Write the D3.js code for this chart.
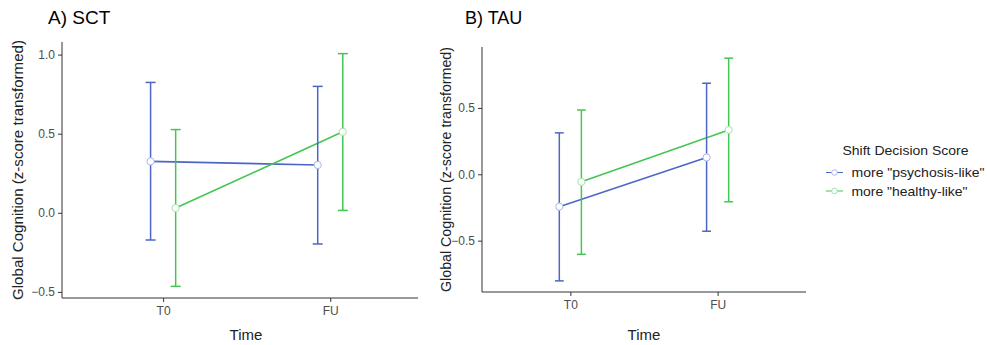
<!DOCTYPE html>
<html>
<head>
<meta charset="utf-8">
<script src="https://cdn.jsdelivr.net/npm/d3@7"></script>
<style>
  html, body { margin: 0; padding: 0; background: #fff; }
  svg { display: block; font-family: "Liberation Sans", Arial, sans-serif; }
</style>
</head>
<body>
<svg id="chart" width="987" height="345"></svg>
<script>
// ---------- DATA ----------
const times = ["T0", "FU"];
const groups = ['more "psychosis-like"', 'more "healthy-like"'];
const panelTitles = ["A) SCT", "B) TAU"];

// Panel A (SCT)
const sctPsychMean = [0.325, 0.302];
const sctPsychLow  = [-0.172, -0.197];
const sctPsychHigh = [0.824, 0.799];
const sctHealthyMean = [0.030, 0.512];
const sctHealthyLow  = [-0.465, 0.015];
const sctHealthyHigh = [0.526, 1.006];
const sctTicks = [-0.5, 0.0, 0.5, 1.0];

// Panel B (TAU)
const tauPsychMean = [-0.244, 0.127];
const tauPsychLow  = [-0.803, -0.429];
const tauPsychHigh = [0.312, 0.686];
const tauHealthyMean = [-0.057, 0.334];
const tauHealthyLow  = [-0.603, -0.207];
const tauHealthyHigh = [0.484, 0.875];
const tauTicks = [-0.5, 0.0, 0.5];

const colors = ["#4c66c6", "#45c552"];
const lightColors = ["#aab8e6", "#a6e2ad"];

// ---------- LAYOUT ----------
const svg = d3.select("#chart");
const panels = [
  { title: panelTitles[0], titleX: 48, titleSize: 19, left: 62, right: 418, top: 42, bottom: 298,
    xDomain: [0.395, 2.525], ylabX: 18, ylabLen: 260, ticks: sctTicks, timeX: 246,
    series: [
      { mean: sctPsychMean, low: sctPsychLow, high: sctPsychHigh },
      { mean: sctHealthyMean, low: sctHealthyLow, high: sctHealthyHigh } ] },
  { title: panelTitles[1], titleX: 465, titleSize: 18, left: 482, right: 806, top: 47, bottom: 292,
    xDomain: [0.4, 2.6], ylabX: 446, ylabLen: 245, ticks: tauTicks, timeX: 644,
    series: [
      { mean: tauPsychMean, low: tauPsychLow, high: tauPsychHigh },
      { mean: tauHealthyMean, low: tauHealthyLow, high: tauHealthyHigh } ] }
];

const dodge = [-0.075, 0.075];
const capHalf = 0.03;

panels.forEach(p => {
  const g = svg.append("g");
  const allLow = d3.min(p.series, s => d3.min(s.low));
  const allHigh = d3.max(p.series, s => d3.max(s.high));
  const pad = (allHigh - allLow) * 0.05;
  const y = d3.scaleLinear().domain([allLow - pad, allHigh + pad]).range([p.bottom, p.top]);
  const x = d3.scaleLinear().domain(p.xDomain).range([p.left, p.right]);

  // title
  g.append("text").attr("x", p.titleX).attr("y", 24)
    .attr("font-size", p.titleSize).attr("fill", "#000").text(p.title);

  // y axis
  const yAxis = d3.axisLeft(y).tickValues(p.ticks).tickFormat(d3.format(".1f")).tickSize(4).tickPadding(3);
  const ya = g.append("g").attr("transform", `translate(${p.left},0)`).call(yAxis);
  ya.select(".domain").attr("d", `M0,${p.top}V${p.bottom}`).attr("stroke", "#333");
  ya.selectAll(".tick line").attr("stroke", "#333");
  ya.selectAll(".tick text").attr("fill", "#4d4d4d").attr("font-size", 12)
    .attr("font-family", '"Liberation Sans", Arial, sans-serif');

  // x axis
  const xAxis = d3.axisBottom(x).tickValues([1, 2]).tickFormat((d, i) => times[i]).tickSize(4).tickPadding(4);
  const xa = g.append("g").attr("transform", `translate(0,${p.bottom})`).call(xAxis);
  xa.select(".domain").attr("d", `M${p.left},0H${p.right}`).attr("stroke", "#333");
  xa.selectAll(".tick line").attr("stroke", "#333");
  xa.selectAll(".tick text").attr("fill", "#4d4d4d").attr("font-size", 12)
    .attr("font-family", '"Liberation Sans", Arial, sans-serif');

  // axis titles
  g.append("text").attr("x", p.timeX).attr("y", 340)
    .attr("text-anchor", "middle").attr("font-size", 15).attr("fill", "#222").text("Time");
  g.append("text")
    .attr("transform", `translate(${p.ylabX + 5},${(p.top + p.bottom) / 2}) rotate(-90)`)
    .attr("text-anchor", "middle").attr("font-size", 14.2).attr("fill", "#222")
    .attr("textLength", p.ylabLen).attr("lengthAdjust", "spacingAndGlyphs")
    .text("Global Cognition (z-score transformed)");

  // lines
  p.series.forEach((s, si) => {
    const pts = s.mean.map((m, i) => [x(i + 1 + dodge[si]), y(m)]);
    g.append("path").attr("d", d3.line()(pts)).attr("fill", "none")
      .attr("stroke", colors[si]).attr("stroke-width", 1.6);
  });
  // error bars
  p.series.forEach((s, si) => {
    s.mean.forEach((m, i) => {
      const cx = i + 1 + dodge[si];
      const eb = g.append("g").attr("stroke", colors[si]).attr("stroke-width", 1.5).attr("fill", "none");
      eb.append("line").attr("x1", x(cx)).attr("x2", x(cx)).attr("y1", y(s.low[i])).attr("y2", y(s.high[i]));
      eb.append("line").attr("x1", x(cx - capHalf)).attr("x2", x(cx + capHalf)).attr("y1", y(s.low[i])).attr("y2", y(s.low[i]));
      eb.append("line").attr("x1", x(cx - capHalf)).attr("x2", x(cx + capHalf)).attr("y1", y(s.high[i])).attr("y2", y(s.high[i]));
    });
  });
  // points
  p.series.forEach((s, si) => {
    g.selectAll(null).data(s.mean).enter().append("circle")
      .attr("cx", (m, i) => x(i + 1 + dodge[si])).attr("cy", m => y(m)).attr("r", 3.6)
      .attr("fill", "#fff").attr("stroke", lightColors[si]).attr("stroke-width", 1);
  });
});

// ---------- LEGEND ----------
const lg = svg.append("g");
lg.append("text").attr("x", 842.5).attr("y", 155).attr("font-size", 13.5).attr("fill", "#222")
  .attr("textLength", 126).attr("lengthAdjust", "spacingAndGlyphs")
  .text("Shift Decision Score");
const legendLens = [133, 116];
groups.forEach((name, i) => {
  const cy = 172.5 + i * 18.5;
  lg.append("line").attr("x1", 826).attr("x2", 843).attr("y1", cy).attr("y2", cy)
    .attr("stroke", colors[i]).attr("stroke-width", 1);
  lg.append("circle").attr("cx", 834.5).attr("cy", cy).attr("r", 2.8)
    .attr("fill", "#fff").attr("stroke", lightColors[i]).attr("stroke-width", 1);
  lg.append("text").attr("x", 851.5).attr("y", cy + 4.5).attr("font-size", 13.5).attr("fill", "#222")
    .attr("textLength", legendLens[i]).attr("lengthAdjust", "spacingAndGlyphs")
    .text(name);
});
</script>
</body>
</html>
